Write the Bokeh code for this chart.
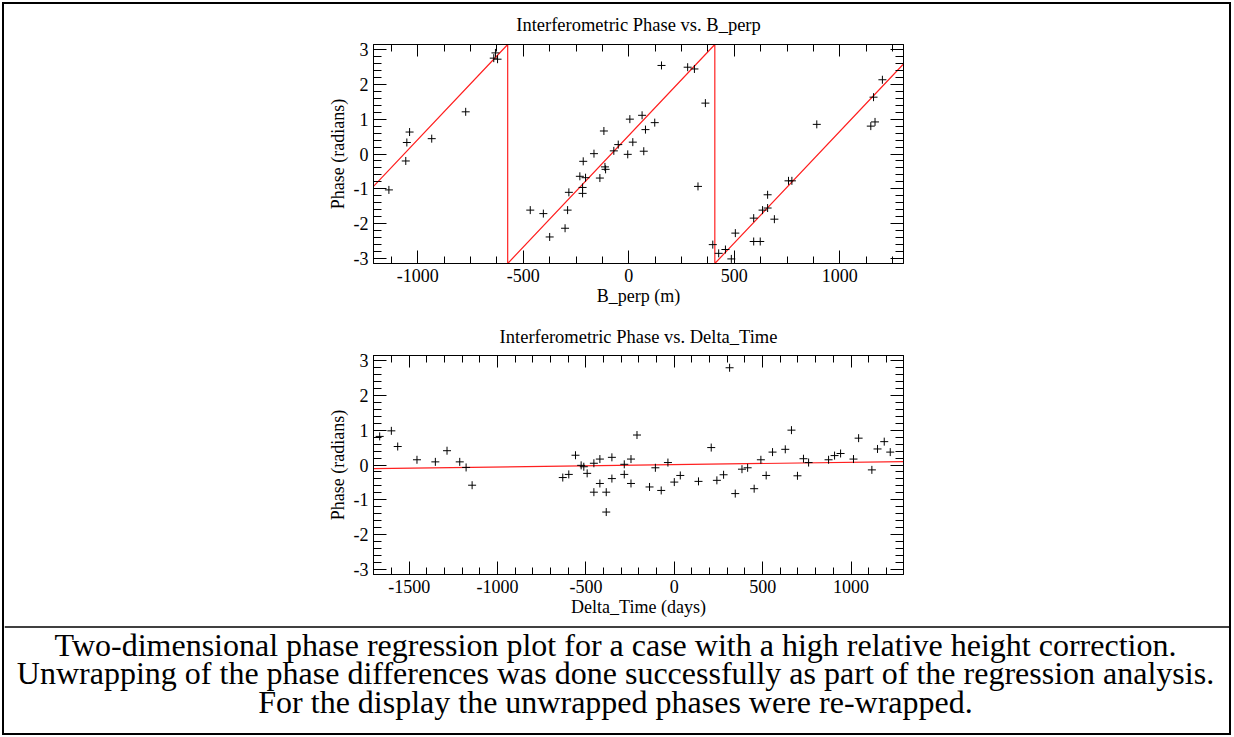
import numpy as np
from bokeh.plotting import figure
from bokeh.layouts import column
from bokeh.models import Range1d, LinearAxis, SingleIntervalTicker, PrintfTickFormatter, Span
from bokeh.embed import file_html
from bokeh.resources import INLINE
from bokeh.core.properties import value

FONT = "Liberation Serif"

# ---------------- data ----------------
bperp = [-1137, -1057, -1052, -1039, -934, -773, -632, -640, -622,
         -467, -405, -375, -302, -290, -284, -232, -219, -219, -216, -205,
         -165, -137, -118, -113, -110, -71, -50, -5, 5, 19, 63, 71, 79, 123,
         155, 279, 311, 363,
         328, 398, 426, 458, 486, 505, 592, 592, 623, 634, 658, 658, 690,
         757, 773, 891, 1147, 1167, 1160, 1202]
phase_b = [-1.03, -0.20, 0.33, 0.63, 0.44, 1.21, 2.90, 2.75, 2.72,
           -1.61, -1.71, -2.38, -2.13, -1.61, -1.10, -0.64, -0.96, -1.13, -0.21, -0.68,
           0.01, -0.69, 0.66, -0.37, -0.44, 0.09, 0.27, -0.01, 1.00, 0.34, 1.11, 0.08, 0.70, 0.90,
           2.54, 2.49, 2.44, 1.46,
           -0.93, -2.60, -2.85, -2.74, -3.01, -2.27, -1.84, -2.51, -2.51, -1.61, -1.55, -1.17, -1.87,
           -0.77, -0.77, 0.85, 0.80, 0.92, 1.63, 2.13]

dtime = [-1667, -1601, -1565, -1456, -1352, -1286, -1214, -1178, -1144,
         -631, -597, -559, -527, -512, -493, -455, -455, -421, -421, -385, -385,
         -353, -353, -283, -283, -245, -245, -211, -140, -107, -74, -36, 0, 34,
         137, 209, 241, 279, 313, 345, 383, 415, 452, 490, 520, 556, 628, 663,
         697, 731, 760, 873, 907, 941, 1014, 1043, 1118, 1150, 1188, 1222]
phase_t = [0.82, 0.98, 0.53, 0.15, 0.09, 0.41, 0.09, -0.07, -0.58,
           -0.36, -0.27, 0.28, -0.01, -0.05, -0.24, 0.05, -0.78, 0.17, -0.53, -0.78, -1.35,
           0.22, -0.39, 0.02, -0.27, 0.17, -0.53, 0.86, -0.63, -0.08, -0.73, 0.07, -0.49, -0.30,
           -0.47, 0.50, -0.44, -0.28, 2.79, -0.82, -0.12, -0.08, -0.68, 0.15, -0.30, 0.37, 0.45, 1.00,
           -0.31, 0.18, 0.07, 0.15, 0.27, 0.33, 0.17, 0.77, -0.14, 0.46, 0.67, 0.37]

# regression results: (slope, offset)
fit_bperp = (0.0064, 0.532)      # rad per m, rad
fit_dtime = (0.000067, 0.01)     # rad per day, rad

xrange_b = (-1210, 1302)
xrange_t = (-1702, 1297)

titles = ["Interferometric Phase vs. B_perp", "Interferometric Phase vs. Delta_Time"]
xlabels = ["B_perp (m)", "Delta_Time (days)"]
ylabel = "Phase (radians)"
caption = ["Two-dimensional phase regression plot for a case with a high relative height correction.",
           "Unwrapping of the phase differences was done successfully as part of the regression analysis.",
           "For the display the unwrapped phases were re-wrapped."]

PI = np.pi


def wrapped_line(x0, x1, slope, offset):
    """Vertices of the re-wrapped regression line in [-pi, pi]."""
    def wrap(v):
        return (v + PI) % (2 * PI) - PI
    k0 = np.ceil((slope * x0 + offset - PI) / (2 * PI))
    k1 = np.floor((slope * x1 + offset - PI) / (2 * PI))
    xs, ys = [x0], [wrap(slope * x0 + offset)]
    for k in np.arange(k0, k1 + 1):
        xw = ((2 * k + 1) * PI - offset) / slope
        xs += [xw, xw]
        ys += [PI, -PI]
    xs.append(x1)
    ys.append(wrap(slope * x1 + offset))
    return xs, ys


def style_axis(ax, interval, nminor, labels, tin, tmin):
    ax.ticker = SingleIntervalTicker(interval=interval, num_minor_ticks=nminor)
    ax.formatter = PrintfTickFormatter(format="%d")
    ax.major_tick_in = tin
    ax.major_tick_out = 0
    ax.minor_tick_in = tmin
    ax.minor_tick_out = 0
    for attr in ("axis_line_color", "major_tick_line_color", "minor_tick_line_color"):
        setattr(ax, attr, "black")
    ax.major_label_text_font = FONT
    if labels:
        ax.major_label_text_color = "black"
        ax.major_label_text_font_size = "18px"
        ax.major_label_standoff = 5
    else:
        ax.major_label_text_color = None
        ax.major_label_text_font_size = "1px"
        ax.major_label_standoff = 0
    ax.axis_label_text_font = FONT
    ax.axis_label_text_font_style = "normal"
    ax.axis_label_text_font_size = "18px"
    ax.axis_label_text_color = "black"


# geometry (content box starts at page x=4, y=4)
LEFT, FRAME_W, RIGHT = 369, 530, 326


def make_plot(xr, xs, ys, fit, wrapped, title, xlabel, xminor, top, bottom, tstand):
    p = figure(frame_width=FRAME_W, frame_height=219,
               x_range=Range1d(*xr), y_range=Range1d(-PI, PI),
               min_border_left=LEFT, min_border_right=RIGHT,
               min_border_top=top, min_border_bottom=bottom,
               output_backend="svg", toolbar_location=None)
    p.title.text = title
    p.title.align = "center"
    p.title.vertical_align = "top"
    p.title.text_font = FONT
    p.title.text_font_size = "18.5px"
    p.title.text_font_style = "normal"
    p.title.text_color = "black"
    p.title.standoff = tstand
    p.grid.visible = False
    p.outline_line_color = "black"
    p.background_fill_color = "white"
    p.border_fill_color = "white"

    style_axis(p.xaxis[0], 500, xminor, True, 13, 7)
    style_axis(p.yaxis[0], 1, 5, True, 13, 8)
    p.xaxis[0].axis_label = xlabel
    p.xaxis[0].axis_label_standoff = 1
    p.yaxis[0].axis_label = ylabel
    p.yaxis[0].axis_label_standoff = 3

    ax_top = LinearAxis()
    style_axis(ax_top, 500, xminor, False, 12, 7)
    p.add_layout(ax_top, "above")
    ax_right = LinearAxis()
    style_axis(ax_right, 1, 5, False, 13, 8)
    p.add_layout(ax_right, "right")

    if wrapped:
        lx, ly = wrapped_line(xr[0], xr[1], *fit)
    else:
        lx = [xr[0], xr[1]]
        ly = [fit[0] * xr[0] + fit[1], fit[0] * xr[1] + fit[1]]
    p.line(lx, ly, line_color="#ff2020", line_width=1.2)
    p.scatter(xs, ys, marker="cross", size=8, line_color="black", line_width=1)
    return p


p1 = make_plot(xrange_b, bperp, phase_b, fit_bperp, True, titles[0], xlabels[0], 4, 40, 55, 16)
p2 = make_plot(xrange_t, dtime, phase_t, fit_dtime, False, titles[1], xlabels[1], 5, 37, 48, 13)

plots = column(p1, p2, spacing=0)

# caption cell: page coordinates x 4..1229, y 622..733
p3 = figure(frame_width=1225, frame_height=111,
            x_range=Range1d(4, 1229), y_range=Range1d(733, 622),
            min_border_left=0, min_border_right=0,
            min_border_top=0, min_border_bottom=0,
            x_axis_type=None, y_axis_type=None,
            output_backend="svg", toolbar_location=None)
p3.grid.visible = False
p3.outline_line_color = None
p3.add_layout(Span(location=626.5, dimension="width", line_color="black", line_width=1.3))
p3.text(x=[615, 615, 615], y=[644, 672.5, 701], text=caption,
        text_align="center", text_baseline="alphabetic",
        text_font=value(FONT), text_font_size="32px", text_color="black")

layout = column(plots, p3, spacing=0,
                styles={"border": "2px solid black", "margin-left": "2px", "margin-top": "2px"})

open("out.html", "w").write(file_html(layout, INLINE))
